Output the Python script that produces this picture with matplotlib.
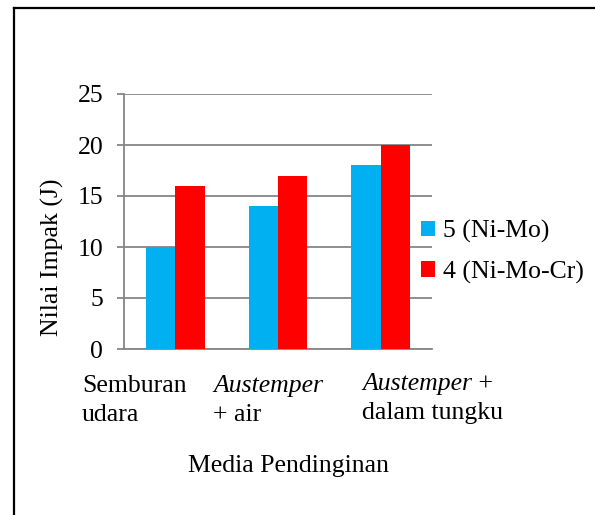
import matplotlib
matplotlib.use('Agg')
import matplotlib.pyplot as plt
import numpy as np
from matplotlib.lines import Line2D

plt.rcParams['font.family'] = ['Liberation Serif', 'DejaVu Serif']

categories = ['Semburan udara', 'Austemper + air', 'Austemper + dalam tungku']
series_names = ['5 (Ni-Mo)', '4 (Ni-Mo-Cr)']
ni_mo = [10, 14, 18]
ni_mo_cr = [16, 17, 20]
colors = ['#00B0F0', '#FF0000']

W, H = 595, 515
FS = 18.5


def fx(px):
    return px / W


def fy(py):
    return 1 - py / H


fig = plt.figure(figsize=(W / 100, H / 100), dpi=100)
ax = fig.add_axes([fx(124), fy(349), fx(432) - fx(124), fy(94) - fy(349)])

x = np.arange(len(categories))
bw = 1 / 3.5
ax.bar(x - bw / 2, ni_mo, bw, color=colors[0], label=series_names[0], zorder=3)
ax.bar(x + bw / 2, ni_mo_cr, bw, color=colors[1], label=series_names[1], zorder=3)

ax.set_xlim(-0.5, 2.5)
ax.set_ylim(0, 25)
ax.set_yticks(range(0, 26, 5))
ax.set_xticks([])
ax.yaxis.grid(True, color='#868686', linewidth=1.3, zorder=0)
for s in ['top', 'right']:
    ax.spines[s].set_visible(False)
for s in ['left', 'bottom']:
    ax.spines[s].set_color('#868686')
    ax.spines[s].set_linewidth(1.3)
ax.tick_params(axis='y', length=5, width=1.3, color='#868686', pad=10, labelsize=FS)

# category labels, laid out like the original text boxes
lab_font = dict(fontsize=FS, ha='left', va='baseline')
fig.text(fx(82), fy(392), 'Semburan', **lab_font)
fig.text(fx(82), fy(421), 'udara', **lab_font)
fig.text(fx(213), fy(392), 'Austemper', style='italic', **lab_font)
fig.text(fx(213), fy(421), '+ air', **lab_font)
t3 = fig.text(fx(362), fy(390), 'Austemper', style='italic', **lab_font)
ax.annotate(' +', xy=(1, 0), xycoords=t3, fontsize=FS, ha='left', va='bottom', annotation_clip=False)
fig.text(fx(362), fy(419), 'dalam tungku', **lab_font)

fig.text(fx(288), fy(472), 'Media Pendinginan', fontsize=FS, ha='center', va='baseline')
fig.text(fx(52), fy(257), 'Nilai Impak (J)', fontsize=FS, rotation=90, ha='center', va='center')

ax.legend(loc='upper left', bbox_to_anchor=(fx(421), fy(220)), bbox_transform=fig.transFigure,
          frameon=False, fontsize=FS, handlelength=0.55, handleheight=0.55, handletextpad=0.3,
          borderpad=0, borderaxespad=0, labelspacing=0.68)

# chart border (left and top edges visible)
fig.add_artist(Line2D([fx(14), fx(14)], [fy(8), 0], transform=fig.transFigure, color='black', lw=1.6))
fig.add_artist(Line2D([fx(14), 1], [fy(8), fy(8)], transform=fig.transFigure, color='black', lw=1.6))

fig.savefig('out.png', dpi=100)
